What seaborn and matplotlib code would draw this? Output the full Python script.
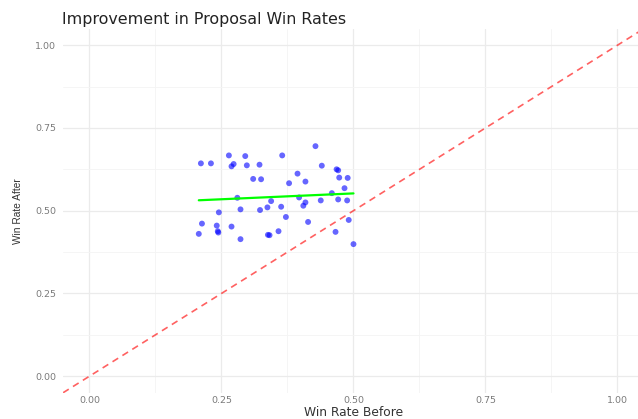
import matplotlib
matplotlib.use("Agg")
import matplotlib.pyplot as plt
from matplotlib import font_manager
import seaborn as sns
import numpy as np
import pandas as pd

# win rates, one entry per proposal
win_before = [0.211, 0.230, 0.264, 0.295, 0.269, 0.273, 0.298, 0.322, 0.310, 0.325,
              0.280, 0.344, 0.337, 0.323, 0.286, 0.245, 0.213, 0.241, 0.269, 0.243,
              0.244, 0.207, 0.338, 0.341, 0.286, 0.428, 0.365, 0.440, 0.468, 0.471,
              0.394, 0.473, 0.489, 0.378, 0.409, 0.483, 0.459, 0.397, 0.438, 0.471,
              0.488, 0.409, 0.405, 0.363, 0.372, 0.414, 0.491, 0.358, 0.466, 0.500]
win_after = [0.643, 0.643, 0.667, 0.665, 0.634, 0.641, 0.637, 0.639, 0.596, 0.595,
             0.539, 0.529, 0.510, 0.502, 0.504, 0.495, 0.461, 0.455, 0.452, 0.438,
             0.434, 0.430, 0.427, 0.426, 0.414, 0.695, 0.667, 0.636, 0.625, 0.622,
             0.612, 0.600, 0.599, 0.583, 0.588, 0.568, 0.553, 0.540, 0.531, 0.534,
             0.531, 0.525, 0.515, 0.512, 0.481, 0.466, 0.472, 0.438, 0.436, 0.399]
ticks = [0.0, 0.25, 0.5, 0.75, 1.0]
tick_labels = ["0.00", "0.25", "0.50", "0.75", "1.00"]

df = pd.DataFrame({"before": win_before, "after": win_after})

sns.set_style("white")
plt.rcParams["font.family"] = ["DejaVu Sans"]

# the y label in the reference is a narrow face; use one if it is there
try:
    font_manager.findfont("Liberation Sans Narrow", fallback_to_default=False)
    ylab_font, ylab_size = "Liberation Sans Narrow", 8.5
except Exception:
    ylab_font, ylab_size = "Liberation Sans", 7.3

fig = plt.figure(figsize=(6.38, 4.19), dpi=100)
ax = fig.add_axes([0.0989, 0.0627, 0.9103, 0.8689])

# diagonal reference line (no change)
ax.axline((0, 0), slope=1, color="red", alpha=0.62, linestyle=(0, (4, 3)), linewidth=1.2, zorder=2)

sns.scatterplot(data=df, x="before", y="after", color="blue", alpha=0.6, s=18,
                edgecolor="none", ax=ax, zorder=3)
sns.regplot(data=df, x="before", y="after", scatter=False, ci=None,
            line_kws={"color": "#00ff00", "linewidth": 1.6, "zorder": 4}, ax=ax)

ax.set_xlim(-0.05, 1.05)
ax.set_ylim(-0.05, 1.05)
ax.set_xticks(ticks)
ax.set_xticklabels(tick_labels)
ax.set_yticks(ticks)
ax.set_yticklabels(tick_labels)
ax.set_xticks(np.array(ticks[:-1]) + 0.125, minor=True)
ax.set_yticks(np.array(ticks[:-1]) + 0.125, minor=True)
ax.grid(which="major", color="#ebebeb", linewidth=0.9, zorder=0)
ax.grid(which="minor", color="#f4f4f4", linewidth=0.6, zorder=0)
ax.set_axisbelow(True)
for s in ax.spines.values():
    s.set_visible(False)
ax.tick_params(which="both", length=0, labelsize=6.8, labelcolor="#7a7a7a")
ax.tick_params(axis="x", pad=2.5)
ax.tick_params(axis="y", pad=5)

ax.set_xlabel("Win Rate Before", fontsize=8.8, color="#333333", labelpad=0.5)
ax.set_ylabel("Win Rate After", fontsize=ylab_size, color="#333333", labelpad=9,
              family=ylab_font)
ax.set_title("Improvement in Proposal Win Rates", fontsize=11.4, color="#222222",
             loc="left", x=-0.002, pad=3.5)

fig.savefig("out.png", dpi=100)
